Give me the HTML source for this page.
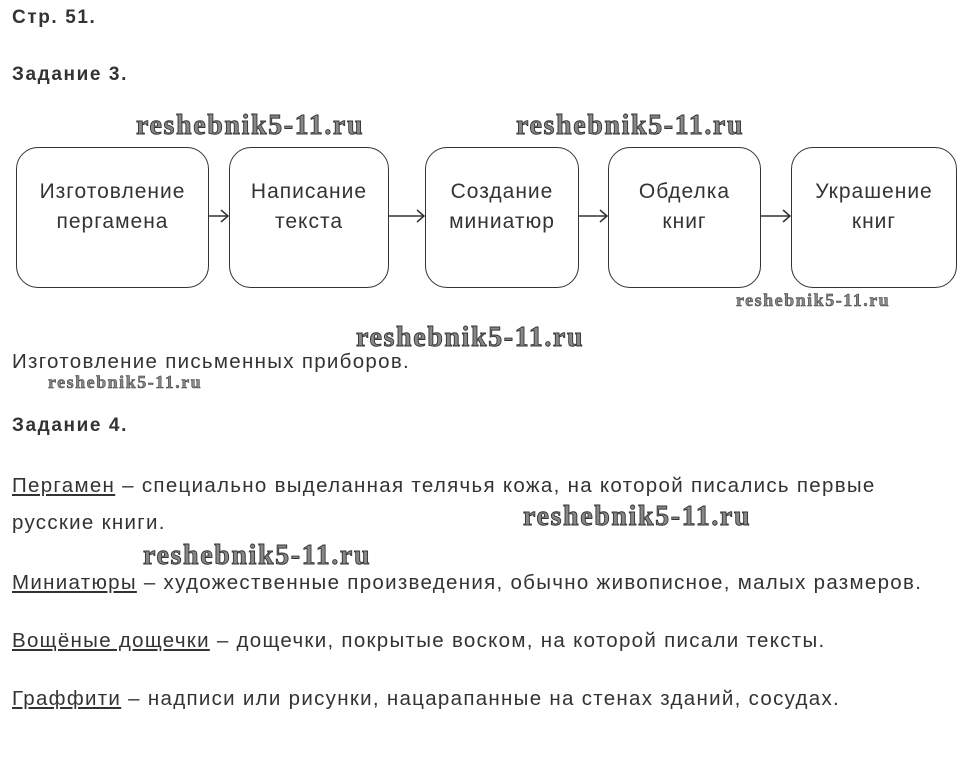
<!DOCTYPE html>
<html><head><meta charset="utf-8"><style>
body{margin:0;width:965px;height:759px;background:#fff;position:relative;overflow:hidden;font-family:"Liberation Sans",Arial,sans-serif;color:#333}
.a{position:absolute;white-space:nowrap}
.h{font-weight:bold;font-size:19px;letter-spacing:1.6px;color:#333}
.t{font-size:20.5px;letter-spacing:1.3px;color:#333}
.b{position:absolute;top:147px;height:141px;border:1.5px solid #333;border-radius:22px;box-sizing:border-box;display:flex;align-items:flex-start;justify-content:center;text-align:center;font-size:21px;letter-spacing:1px;line-height:30px;padding-top:29px;color:#333}
.w{position:absolute;white-space:nowrap;font-family:"Liberation Serif",serif;font-weight:bold;color:#888;-webkit-text-stroke:0.9px #333;letter-spacing:1.6px;font-size:28px}
.s{font-size:18px;-webkit-text-stroke:0.5px #333;letter-spacing:1.5px}
u{text-decoration:underline}
</style></head><body>
<div class="a h" style="left:12px;top:7px">Стр. 51.</div>
<div class="a h" style="left:12px;top:64px">Задание 3.</div>
<div class="w" style="left:136px;top:110px">reshebnik5-11.ru</div>
<div class="w" style="left:516px;top:110px">reshebnik5-11.ru</div>
<div class="b" style="left:16px;width:193px">Изготовление<br>пергамена</div>
<div class="b" style="left:229px;width:160px">Написание<br>текста</div>
<div class="b" style="left:425px;width:154px">Создание<br>миниатюр</div>
<div class="b" style="left:608px;width:153px">Обделка<br>книг</div>
<div class="b" style="left:791px;width:166px">Украшение<br>книг</div>
<svg class="a" style="left:0;top:0" width="965" height="300">
<g stroke="#333" stroke-width="1.5" fill="none">
<path d="M209 216H228M221 210L228 216L221 222"/>
<path d="M389 216H424M417 210L424 216L417 222"/>
<path d="M579 216H607M600 210L607 216L600 222"/>
<path d="M761 216H790M783 210L790 216L783 222"/>
</g></svg>
<div class="w s" style="left:736px;top:290px">reshebnik5-11.ru</div>
<div class="w" style="left:356px;top:322px">reshebnik5-11.ru</div>
<div class="a t" style="left:12px;top:350px">Изготовление письменных приборов.</div>
<div class="w s" style="left:48px;top:372px">reshebnik5-11.ru</div>
<div class="a h" style="left:12px;top:415px">Задание 4.</div>
<div class="a t" style="left:12px;top:474px"><u>Пергамен</u> – специально выделанная телячья кожа, на которой писались первые</div>
<div class="a t" style="left:12px;top:511px">русские книги.</div>
<div class="w" style="left:523px;top:501px">reshebnik5-11.ru</div>
<div class="w" style="left:143px;top:540px">reshebnik5-11.ru</div>
<div class="a t" style="left:12px;top:571px"><u>Миниатюры</u> – художественные произведения, обычно живописное, малых размеров.</div>
<div class="a t" style="left:12px;top:629px"><u>Вощёные дощечки</u> – дощечки, покрытые воском, на которой писали тексты.</div>
<div class="a t" style="left:12px;top:687px"><u>Граффити</u> – надписи или рисунки, нацарапанные на стенах зданий, сосудах.</div>
</body></html>
